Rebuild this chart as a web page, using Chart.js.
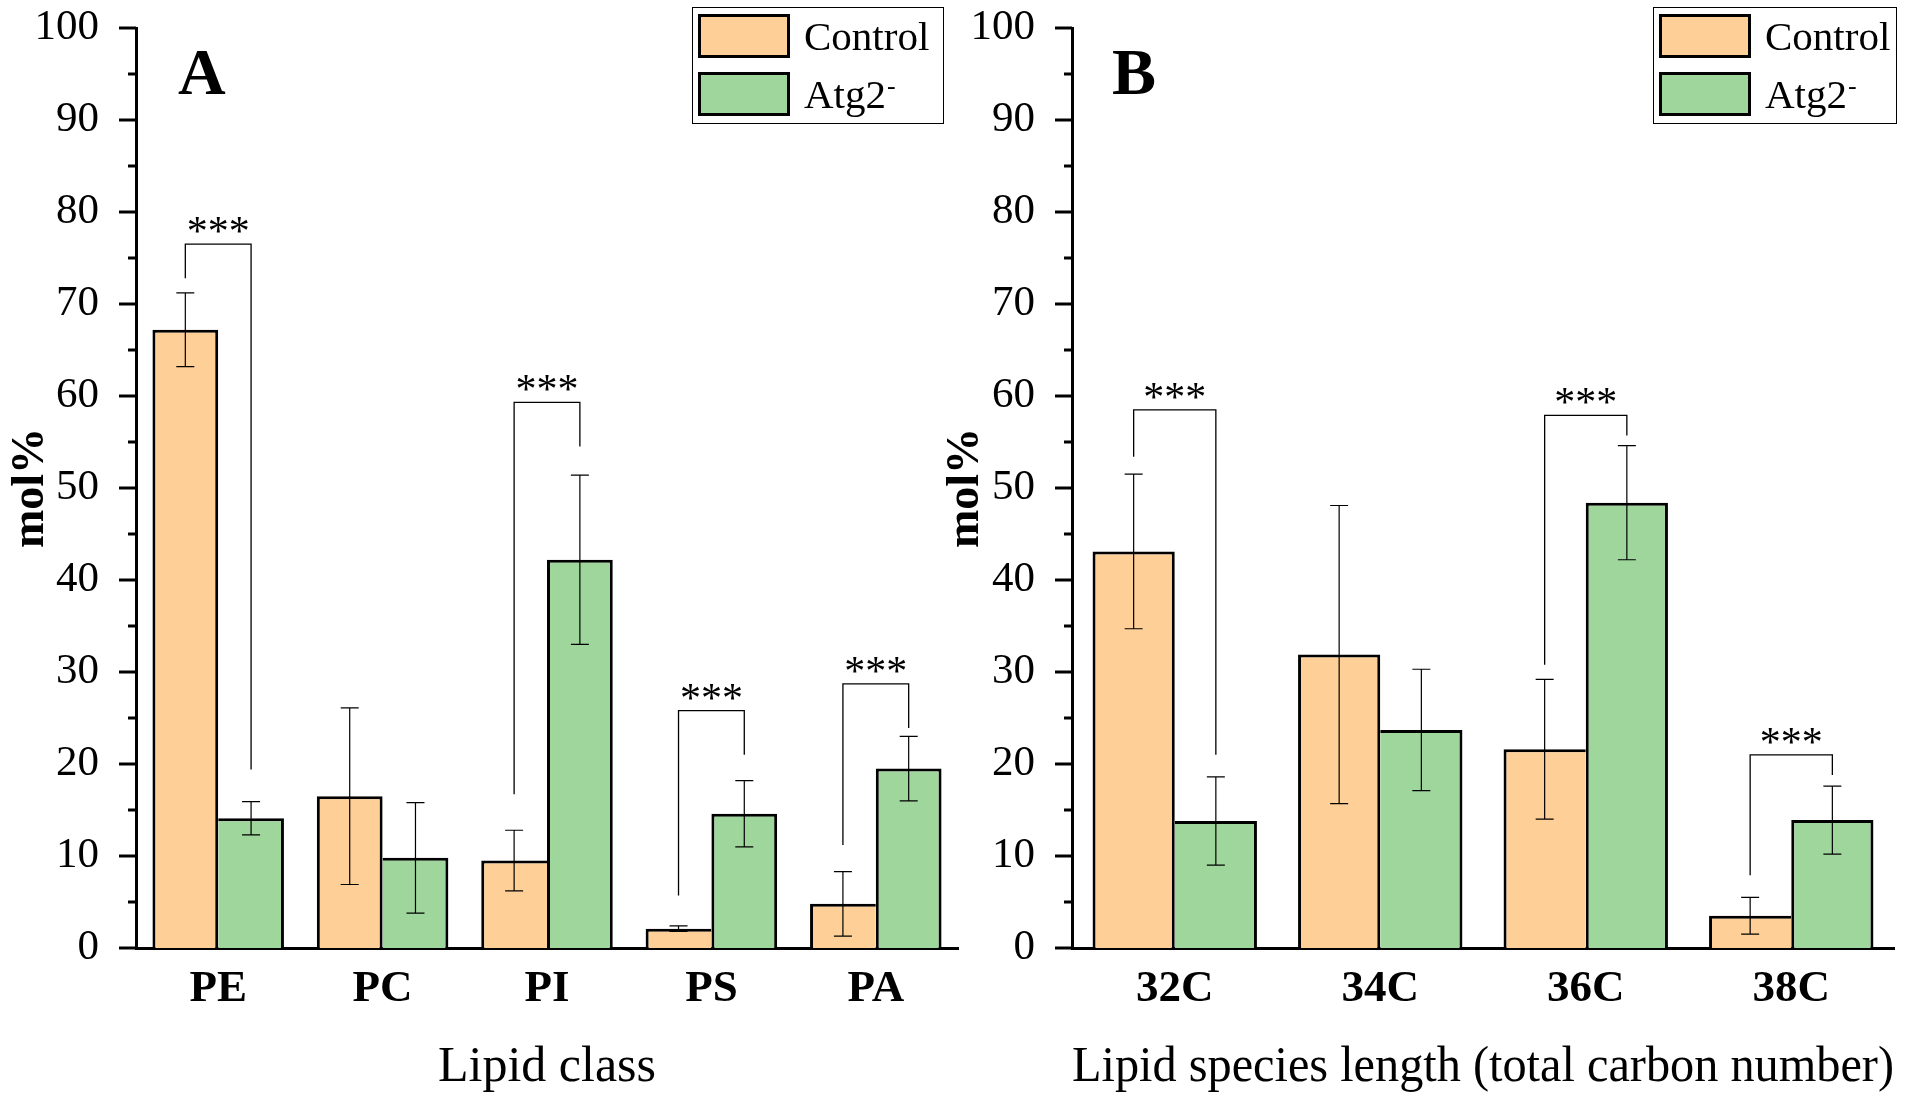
<!DOCTYPE html>
<html>
<head>
<meta charset="utf-8">
<script src="https://cdn.jsdelivr.net/npm/chart.js@4.4.1/dist/chart.umd.min.js"></script>
<style>
  body { margin: 0; background: #fff; }
  #wrap { position: relative; width: 1920px; height: 1100px; overflow: hidden; }
  #chartA { position: absolute; left: 0; top: 0; }
  #chartB { position: absolute; left: 935px; top: 0; }
</style>
</head>
<body>
<div id="wrap">
  <canvas id="chartA" width="965" height="1100"></canvas>
  <canvas id="chartB" width="985" height="1100"></canvas>
</div>
<script>
// panel A - lipid class
const classLabels = ['PE', 'PC', 'PI', 'PS', 'PA'];
const classControl = [67.2, 16.5, 9.5, 2.1, 4.8];
const classControlErr = [4.0, 9.6, 3.3, 0.3, 3.5];
const classAtg2 = [14.1, 9.8, 42.2, 14.6, 19.5];
const classAtg2Err = [1.8, 6.0, 9.2, 3.6, 3.5];
// significance brackets: [category, left leg bottom, bracket top, right leg bottom]
const classSig = [[0, 72.8, 76.5, 19.4], [2, 16.7, 59.3, 54.5], [3, 5.7, 25.8, 21.0], [4, 11.2, 28.7, 23.9]];

// panel B - lipid species length
const lengthLabels = ['32C', '34C', '36C', '38C'];
const lengthControl = [43.1, 31.9, 21.6, 3.5];
const lengthControlErr = [8.4, 16.2, 7.6, 2.0];
const lengthAtg2 = [13.8, 23.7, 48.4, 13.9];
const lengthAtg2Err = [4.8, 6.6, 6.2, 3.7];
const lengthSig = [[0, 53.4, 58.5, 21.0], [2, 30.8, 57.9, 55.7], [3, 7.9, 21.0, 18.8]];

const seriesNames = ['Control', 'Atg2'];
const controlColor = 'rgb(254,207,150)';
const atg2Color = 'rgb(159,214,156)';
const SERIF = "'Liberation Serif', 'Times New Roman', serif";

// the shared edge between the two bars is drawn only by the taller one
function borderFor(ctrl, atg, isCtrl) {
    return (ctx) => {
        const i = ctx.dataIndex;
        if (i === undefined) return 3;
        const taller = isCtrl ? ctrl[i] >= atg[i] : atg[i] > ctrl[i];
        if (isCtrl) return { top: 3, left: 3, right: taller ? 3 : 0, bottom: 0 };
        return { top: 3, right: 3, left: taller ? 3 : 0, bottom: 0 };
    };
}

function makeChart(id, setup) {
    const extras = {
        id: 'extras',
        afterDraw(chart) {
            const ctx = chart.ctx;
            const y = chart.scales.y;
            const left = chart.chartArea.left;
            ctx.save();
            ctx.strokeStyle = '#000';
            ctx.fillStyle = '#000';

            // y ticks, major every 10 and minor every 5
            ctx.lineWidth = 3;
            for (let v = 0; v <= 100; v += 5) {
                const py = y.getPixelForValue(v);
                const len = v % 10 === 0 ? 17 : 8;
                ctx.beginPath();
                ctx.moveTo(left - len, py);
                ctx.lineTo(left, py);
                ctx.stroke();
            }

            // error bars
            ctx.lineWidth = 1.2;
            [setup.ctrlErr, setup.atgErr].forEach((errs, d) => {
                const meta = chart.getDatasetMeta(d);
                const vals = chart.data.datasets[d].data;
                meta.data.forEach((bar, i) => {
                    const top = y.getPixelForValue(vals[i] + errs[i]);
                    const bot = y.getPixelForValue(vals[i] - errs[i]);
                    ctx.beginPath();
                    ctx.moveTo(bar.x, top); ctx.lineTo(bar.x, bot);
                    ctx.moveTo(bar.x - 9, top); ctx.lineTo(bar.x + 9, top);
                    ctx.moveTo(bar.x - 9, bot); ctx.lineTo(bar.x + 9, bot);
                    ctx.stroke();
                });
            });

            // significance brackets
            const m0 = chart.getDatasetMeta(0);
            const m1 = chart.getDatasetMeta(1);
            ctx.lineWidth = 1.3;
            ctx.font = '42px ' + SERIF;
            ctx.textAlign = 'center';
            ctx.textBaseline = 'alphabetic';
            setup.sig.forEach(([i, lowL, top, lowR]) => {
                const xl = m0.data[i].x;
                const xr = m1.data[i].x;
                const yt = y.getPixelForValue(top);
                ctx.beginPath();
                ctx.moveTo(xl, y.getPixelForValue(lowL));
                ctx.lineTo(xl, yt);
                ctx.lineTo(xr, yt);
                ctx.lineTo(xr, y.getPixelForValue(lowR));
                ctx.stroke();
                ctx.fillText('***', (xl + xr) / 2, yt + 1);
            });

            // panel letter
            ctx.textAlign = 'left';
            ctx.font = 'bold 66px ' + SERIF;
            ctx.fillText(setup.letter, setup.letterX, 94);

            // legend box
            const lg = setup.legend;
            ctx.lineWidth = 1;
            ctx.strokeRect(lg.x + 0.5, lg.y + 0.5, lg.w, lg.h);
            const colors = [controlColor, atg2Color];
            for (let k = 0; k < 2; k++) {
                const sx = lg.x + 6, sy = lg.y + 7 + k * 58;
                ctx.fillStyle = colors[k];
                ctx.fillRect(sx, sy, 92, 44);
                ctx.lineWidth = 3;
                ctx.strokeRect(sx + 1.5, sy + 1.5, 89, 41);
                ctx.fillStyle = '#000';
                ctx.font = '41px ' + SERIF;
                const tx = lg.x + 112, ty = lg.y + 43 + k * 58;
                ctx.fillText(seriesNames[k], tx, ty);
                if (k === 1) {
                    const w = ctx.measureText(seriesNames[k]).width;
                    ctx.font = '26px ' + SERIF;
                    ctx.fillText('-', tx + w + 1, ty - 14);
                }
            }
            ctx.restore();
        }
    };

    return new Chart(document.getElementById(id), {
        type: 'bar',
        data: {
            labels: setup.labels,
            datasets: [{
                label: seriesNames[0],
                data: setup.ctrl,
                backgroundColor: controlColor,
                borderColor: '#000',
                borderWidth: borderFor(setup.ctrl, setup.atg, true),
                borderSkipped: false,
                categoryPercentage: 0.8,
                barPercentage: 1.0
            }, {
                label: seriesNames[1],
                data: setup.atg,
                backgroundColor: atg2Color,
                borderColor: '#000',
                borderWidth: borderFor(setup.ctrl, setup.atg, false),
                borderSkipped: false,
                categoryPercentage: 0.8,
                barPercentage: 1.0
            }]
        },
        options: {
            responsive: false,
            animation: false,
            devicePixelRatio: 1,
            events: [],
            layout: { padding: { top: 28, right: setup.padRight, left: 0, bottom: 0 } },
            plugins: { legend: { display: false }, tooltip: { enabled: false } },
            scales: {
                x: {
                    z: 1,
                    grid: { display: false },
                    border: { display: true, width: 3, color: '#000' },
                    ticks: { color: '#000', padding: 6, font: { family: SERIF, size: 45, weight: 'bold' } },
                    title: {
                        display: true, text: setup.xTitle, color: '#000',
                        font: { family: SERIF, size: 50 }, padding: { bottom: 2 }
                    },
                    afterFit: (scale) => { scale.height = 152; }
                },
                y: {
                    min: 0, max: 100,
                    grid: { display: false },
                    border: { display: true, width: 3, color: '#000' },
                    ticks: { stepSize: 10, color: '#000', padding: 29, font: { family: SERIF, size: 43 } },
                    title: {
                        display: true, text: 'mol%', color: '#000',
                        font: { family: SERIF, size: 46, weight: 'bold' }, padding: { top: 4 }
                    },
                    afterFit: (scale) => {
                        scale.width = setup.yWidth;
                        // keep the plot top at the layout padding
                        scale.paddingTop = 0;
                        scale.paddingBottom = 0;
                    }
                }
            }
        },
        plugins: [extras]
    });
}

makeChart('chartA', {
    labels: classLabels, ctrl: classControl, atg: classAtg2,
    ctrlErr: classControlErr, atgErr: classAtg2Err, sig: classSig,
    xTitle: 'Lipid class', letter: 'A', letterX: 178,
    yWidth: 136, padRight: 7,
    legend: { x: 692, y: 7, w: 251, h: 116 }
});

makeChart('chartB', {
    labels: lengthLabels, ctrl: lengthControl, atg: lengthAtg2,
    ctrlErr: lengthControlErr, atgErr: lengthAtg2Err, sig: lengthSig,
    xTitle: 'Lipid species length (total carbon number)', letter: 'B', letterX: 177,
    yWidth: 137, padRight: 26,
    legend: { x: 718, y: 7, w: 243, h: 116 }
});
</script>
</body>
</html>
